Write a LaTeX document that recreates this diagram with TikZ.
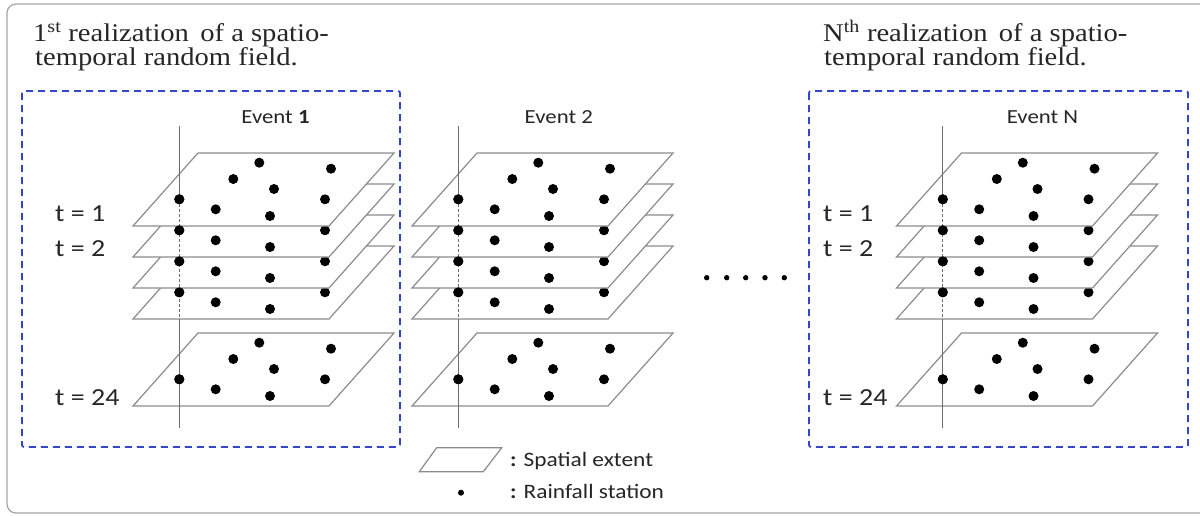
\documentclass[tikz,border=0pt]{standalone}
\usepackage{fontspec}
\setmainfont{Liberation Serif}[FakeStretch=1.12]
\newfontfamily\calfont[FakeStretch=1.14]{Carlito}
\definecolor{boxblue}{RGB}{50,70,200}
\definecolor{planegray}{RGB}{140,140,140}
\definecolor{axisgray}{RGB}{110,110,110}
\definecolor{framegray}{RGB}{165,165,165}
\tikzset{
  plane/.style={draw=planegray, fill=white, line width=1.2pt, line join=miter},
  evbox/.style={draw=boxblue, line width=1.8pt, dash pattern=on 7pt off 5pt, rounded corners=2pt},
  axisline/.style={draw=axisgray, line width=1.1pt},
  axisdash/.style={draw=axisgray, line width=1.1pt, dash pattern=on 3pt off 2pt},
  title/.style={anchor=base west, inner sep=0pt, text=black!85, font=\fontsize{25.5}{28}\selectfont},
  evlabel/.style={anchor=base, inner sep=0pt, text=black!85, font=\calfont\fontsize{20}{22}\selectfont},
  tlabel/.style={anchor=base west, inner sep=0pt, text=black!85, font=\calfont\fontsize{24.5}{26}\selectfont},
  legtext/.style={anchor=base west, inner sep=0pt, text=black!85, font=\calfont\fontsize{20.5}{24}\selectfont},
}
\newcommand\stationdots[1]{%
  \foreach \px/\py in {259.3/162.7,331/168.7,233.3/179,274/189,179.3/199.3,325/199.3,215.7/209.3,270/216}
    \fill (\px,{\py+#1}) circle (5pt);
}
\newcommand\eventstack{%
  \foreach \dy in {180,93,62,31,0} {
    \draw[plane] (198,{153+\dy}) -- (394,{153+\dy}) -- (329,{226+\dy}) -- (133,{226+\dy}) -- cycle;
    \stationdots{\dy}
  }
  \draw[axisline] (179.3,126) -- (179.3,199.3);
  \draw[axisdash] (179.3,199.3) -- (179.3,319);
  \draw[axisline] (179.3,319) -- (179.3,428);
  \foreach \dy in {0,31,62,93,180} \fill (179.3,{199.3+\dy}) circle (5pt);
}
\begin{document}
\begin{tikzpicture}[x=1pt,y=-1pt]
\useasboundingbox (0,0) rectangle (1200,515);
\clip (0,0) rectangle (1200,515);
\fill[white] (0,0) rectangle (1200,515);
\draw[draw=framegray, line width=1.2pt, rounded corners=9pt] (7,4) rectangle (1220,513);

% titles
\node[title] (title1a) at (33,41.7) {1\textsuperscript{st} realization\, of a spatio-};
\node[title] (title1b) at (35,65.5) {temporal random field.};
\node[title] (titleNa) at (823,41.7) {N\textsuperscript{th} realization\, of a spatio-};
\node[title] (titleNb) at (824,65.5) {temporal random field.};

% event boxes
\draw[evbox] (22,91) rectangle (400,447);
\draw[evbox] (809,91) rectangle (1188,447);

% event 1
\begin{scope}
  \eventstack
\end{scope}
\node[evlabel] (ev1) at (275.5,123.3) {Event \textbf{1}};
\node[tlabel] (e1t1) at (55,221.7) {t = 1};
\node[tlabel] (e1t2) at (55,256.7) {t = 2};
\node[tlabel] (e1t24) at (55,405) {t = 24};

% event 2
\begin{scope}[shift={(279,0)}]
  \eventstack
\end{scope}
\node[evlabel] (ev2) at (558.8,123.3) {Event 2};

% event N
\begin{scope}[shift={(763.5,0)}]
  \eventstack
\end{scope}
\node[evlabel] (evN) at (1042.5,123.3) {Event N};
\node[tlabel] (eNt1) at (823,221.3) {t = 1};
\node[tlabel] (eNt2) at (823,256.5) {t = 2};
\node[tlabel] (eNt24) at (823,405) {t = 24};

% ellipsis dots
\foreach \ex in {706.7,726.7,745.7,765,784.3}
  \fill (\ex,277.7) circle (2.7pt);

% legend
\draw[plane] (436.7,447.7) -- (501.7,447.7) -- (483.3,471.7) -- (419.3,471.7) -- cycle;
\fill (461,492.7) circle (3pt);
\node[legtext] (legA) at (510,466) {\textbf{:} Spatial extent};
\node[legtext] (legB) at (510,498) {\textbf{:} Rainfall station};
\end{tikzpicture}
\end{document}
